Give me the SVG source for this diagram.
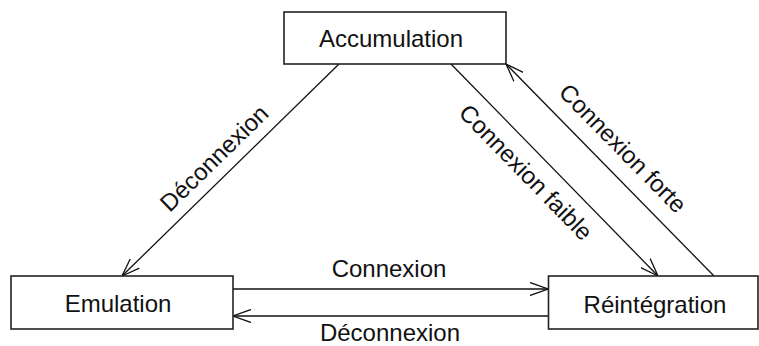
<svg xmlns="http://www.w3.org/2000/svg" width="759" height="346" viewBox="0 0 759 346">
<defs>
<style>
.box{fill:#fff;stroke:#222;stroke-width:1.6}
.lbl{font-family:"Liberation Sans",Arial,sans-serif;font-size:24px;fill:#111}
.edge{stroke:#111;stroke-width:1.3;fill:none}
</style>
<marker id="arr" viewBox="0 0 18 14" refX="18" refY="7" markerWidth="18" markerHeight="14" markerUnits="userSpaceOnUse" orient="auto">
<path d="M0,0.5 L18,7 L0,13.5" fill="none" stroke="#111" stroke-width="1.3"/>
</marker>
</defs>
<rect width="759" height="346" fill="#fff"/>
<g id="connectors">
<line class="edge" x1="339" y1="64" x2="122" y2="276" marker-end="url(#arr)"/>
<line class="edge" x1="451" y1="64" x2="658" y2="276" marker-end="url(#arr)"/>
<line class="edge" x1="714" y1="276" x2="506" y2="64" marker-end="url(#arr)"/>
<line class="edge" x1="233" y1="289" x2="548" y2="289" marker-end="url(#arr)"/>
<line class="edge" x1="548" y1="316" x2="233" y2="316" marker-end="url(#arr)"/>
<text class="lbl" text-anchor="middle" transform="translate(220,164) rotate(-44.3)">Déconnexion</text>
<text class="lbl" text-anchor="middle" transform="translate(520,178) rotate(45.7)">Connexion faible</text>
<text class="lbl" text-anchor="middle" transform="translate(617,154) rotate(45.5)">Connexion forte</text>
<text class="lbl" text-anchor="middle" x="389" y="277">Connexion</text>
<text class="lbl" text-anchor="middle" x="390" y="341">Déconnexion</text>
</g>
<g id="accumulation">
<rect class="box" x="284" y="12" width="222" height="52"/>
<text class="lbl" text-anchor="middle" x="391" y="47">Accumulation</text>
</g>
<g id="emulation">
<rect class="box" x="11" y="276" width="222" height="53"/>
<text class="lbl" text-anchor="middle" x="118" y="312">Emulation</text>
</g>
<g id="reintegration">
<rect class="box" x="548.5" y="276" width="209.5" height="53"/>
<text class="lbl" text-anchor="middle" x="655" y="313">Réintégration</text>
</g>
</svg>
